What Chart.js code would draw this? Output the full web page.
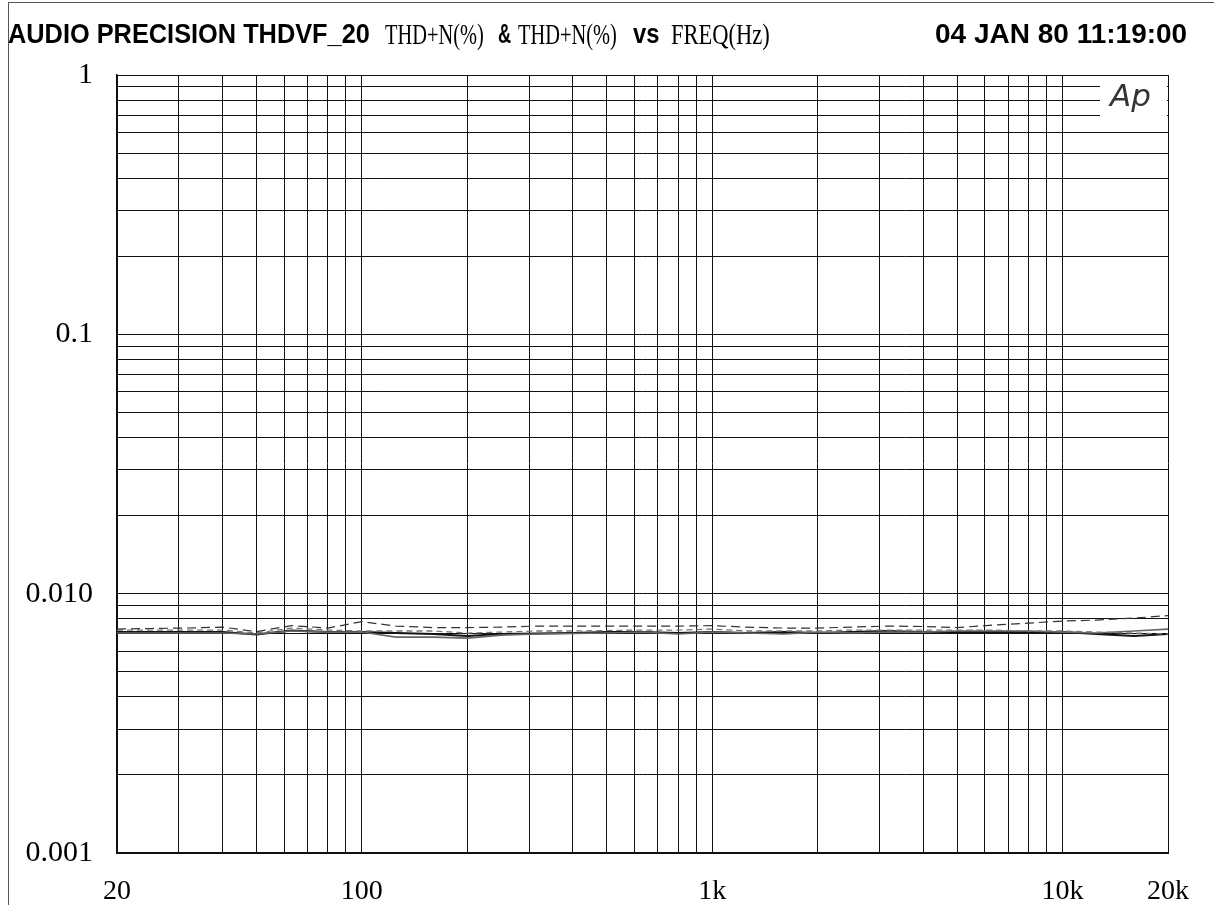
<!DOCTYPE html>
<html>
<head>
<meta charset="utf-8">
<script src="https://cdn.jsdelivr.net/npm/chart.js@4/dist/chart.umd.min.js"></script>
<style>
  html, body { margin: 0; padding: 0; background: #fff; }
  #wrap { position: relative; width: 1214px; height: 905px; overflow: hidden; background: #fff; }
  #frame { position: absolute; left: 8px; top: 2px; width: 1210px; height: 910px; border-left: 1.5px solid #555; border-top: 1.5px solid #555; }
  canvas { position: absolute; left: 0; top: 0; }
  .t { position: absolute; white-space: nowrap; line-height: 1; color: #000; transform-origin: 0 0; }
  .b { top: 20px; font-family: "Liberation Sans", Arial, sans-serif; font-weight: bold; font-size: 28px; }
  .s { top: 19px; font-family: "Liberation Serif", "Times New Roman", serif; font-size: 30px; }
  #ap { position: absolute; left: 1110px; top: 80px; font-family: "DejaVu Sans", sans-serif; font-weight: 100; font-style: italic; font-size: 31px; color: #333; line-height: 1; }
</style>
</head>
<body>
<div id="wrap">
  <canvas id="c" width="1214" height="905"></canvas>
  <div id="frame"></div>
  <div class="t b" style="left:8px; transform:scaleX(0.905);">AUDIO PRECISION THDVF_20</div>
  <div class="t s" style="left:385px; transform:scaleX(0.68);">THD+N(%)</div>
  <div class="t b" style="left:498px; transform:scaleX(0.65);">&amp;</div>
  <div class="t s" style="left:518px; transform:scaleX(0.68);">THD+N(%)</div>
  <div class="t b" style="left:633px; transform:scaleX(0.85);">vs</div>
  <div class="t s" style="left:671px; transform:scaleX(0.75);">FREQ(Hz)</div>
  <div class="t b" style="left:935px;">04 JAN 80 11:19:00</div>
  <div id="ap">Ap</div>
</div>
<script>
// ---- data ----
const freqs = [20, 25, 31.5, 40, 50, 63, 80, 100, 125, 160, 200, 250, 315, 400, 500, 630, 800,
  1000, 1250, 1600, 2000, 2500, 3150, 4000, 5000, 6300, 8000, 10000, 12500, 16000, 20000];

const thdA = [0.00711, 0.00711, 0.00711, 0.00711, 0.00696, 0.00721, 0.00711, 0.00711, 0.00705, 0.00699,
  0.00686, 0.00699, 0.00702, 0.00705, 0.00711, 0.00711, 0.00705, 0.00711, 0.00705, 0.00711, 0.00705,
  0.00711, 0.00718, 0.00711, 0.00711, 0.00711, 0.00711, 0.00711, 0.00699, 0.00686, 0.00699];

const thdB = [0.00705, 0.00705, 0.00705, 0.00705, 0.00699, 0.00718, 0.00711, 0.00711, 0.00680, 0.00680,
  0.00674, 0.00692, 0.00699, 0.00702, 0.00705, 0.00711, 0.00699, 0.00711, 0.00705, 0.00699, 0.00711,
  0.00705, 0.00711, 0.00711, 0.00718, 0.00718, 0.00718, 0.00711, 0.00705, 0.00718, 0.00730];

const thdC = [0.00730, 0.00734, 0.00737, 0.00743, 0.00714, 0.00753, 0.00737, 0.00780, 0.00750, 0.00740,
  0.00740, 0.00743, 0.00750, 0.00750, 0.00750, 0.00750, 0.00750, 0.00753, 0.00743, 0.00737, 0.00737,
  0.00743, 0.00750, 0.00747, 0.00740, 0.00756, 0.00770, 0.00784, 0.00791, 0.00805, 0.00823];

const thdD = [0.00724, 0.00724, 0.00724, 0.00724, 0.00705, 0.00737, 0.00724, 0.00718, 0.00718, 0.00718,
  0.00705, 0.00711, 0.00718, 0.00718, 0.00721, 0.00724, 0.00724, 0.00730, 0.00718, 0.00718, 0.00718,
  0.00724, 0.00724, 0.00724, 0.00724, 0.00724, 0.00718, 0.00718, 0.00711, 0.00705, 0.00699];

const xTickValues = [20, 30, 40, 50, 60, 70, 80, 90, 100, 200, 300, 400, 500, 600, 700, 800, 900,
  1000, 2000, 3000, 4000, 5000, 6000, 7000, 8000, 9000, 10000, 20000];
const xTickLabels = { 20: "20", 100: "100", 1000: "1k", 10000: "10k", 20000: "20k" };

const yTickValues = [0.001, 0.002, 0.003, 0.004, 0.005, 0.006, 0.007, 0.008, 0.009,
  0.01, 0.02, 0.03, 0.04, 0.05, 0.06, 0.07, 0.08, 0.09,
  0.1, 0.2, 0.3, 0.4, 0.5, 0.6, 0.7, 0.8, 0.9, 1];
const yTickLabels = { 0.001: "0.001", 0.01: "0.010", 0.1: "0.1", 1: "1" };

// ---- chart ----
const pts = arr => freqs.map((f, i) => ({ x: f, y: arr[i] }));
const near = (v, map) => {
  for (const k in map) { if (Math.abs(Math.log10(v) - Math.log10(+k)) < 1e-6) return map[k]; }
  return "";
};

const apBox = {
  id: "apBox",
  beforeDatasetsDraw(chart) {
    const { ctx, chartArea, scales } = chart;
    const yb = scales.y.getPixelForValue(0.6);
    ctx.save();
    ctx.fillStyle = "#fff";
    ctx.fillRect(chartArea.right - 68, chartArea.top + 1, 67, yb - chartArea.top - 2);
    ctx.restore();
  }
};

new Chart(document.getElementById("c"), {
  type: "line",
  data: {
    datasets: [
      { data: pts(thdC), borderColor: "#333", borderWidth: 1.2, borderDash: [9, 5] },
      { data: pts(thdD), borderColor: "#777", borderWidth: 1.3, borderDash: [6, 4] },
      { data: pts(thdB), borderColor: "#666", borderWidth: 1.6 },
      { data: pts(thdA), borderColor: "#111", borderWidth: 2 }
    ]
  },
  options: {
    responsive: false,
    animation: false,
    events: [],
    layout: { padding: { left: 0, right: 46, top: 75, bottom: 0 } },
    elements: { point: { radius: 0 }, line: { tension: 0, fill: false } },
    plugins: { legend: { display: false }, tooltip: { enabled: false }, title: { display: false } },
    scales: {
      x: {
        type: "logarithmic",
        min: 20, max: 20000,
        afterBuildTicks: s => { s.ticks = xTickValues.map(v => ({ value: v })); },
        afterFit: s => { s.height = 52; },
        ticks: {
          autoSkip: false, maxRotation: 0, padding: 22, color: "#000",
          font: { family: "'Liberation Serif', 'Times New Roman', serif", size: 28 },
          callback: v => near(v, xTickLabels)
        },
        grid: { color: "#111", lineWidth: 1, drawTicks: false },
        border: { color: "#111", width: 2 }
      },
      y: {
        type: "logarithmic",
        min: 0.001, max: 1,
        afterBuildTicks: s => { s.ticks = yTickValues.map(v => ({ value: v })); },
        afterFit: s => { s.width = 117; },
        ticks: {
          autoSkip: false, padding: 24, color: "#000",
          font: { family: "'Liberation Serif', 'Times New Roman', serif", size: 30 },
          callback: v => near(v, yTickLabels)
        },
        grid: { color: "#111", lineWidth: 1, drawTicks: false },
        border: { color: "#111", width: 1.5 }
      }
    }
  },
  plugins: [apBox]
});
</script>
</body>
</html>
